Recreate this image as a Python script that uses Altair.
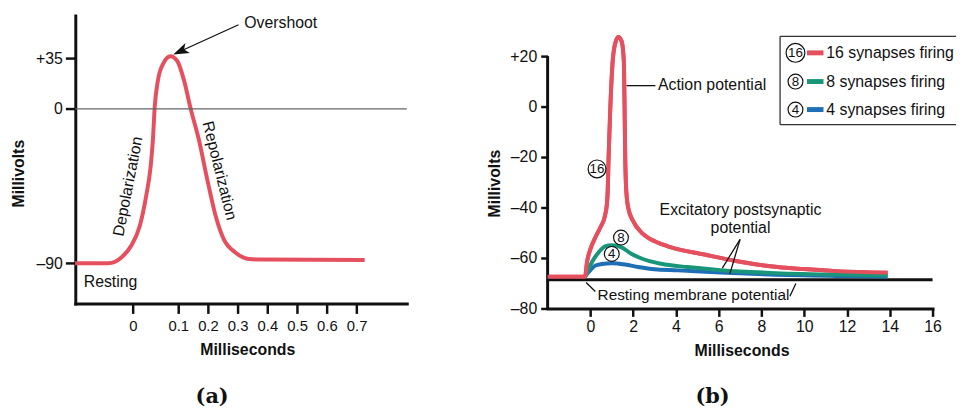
import altair as alt
import pandas as pd

FONT = "Liberation Sans"
SERIF = "DejaVu Serif"
INK = "#111111"
RED = "#E5505E"
GREEN = "#19967A"
BLUE = "#1E6FB5"

# ---------------- panel (a): action potential (schematic axes) ----------------
a_time = [-0.128, -0.055, -0.025, -0.004, 0.015, 0.029, 0.039, 0.044, 0.048, 0.055,
          0.066, 0.083, 0.098, 0.120, 0.142, 0.170, 0.198, 0.226, 0.253, 0.292,
          0.337, 0.381, 0.727]
a_mv = [-90, -90, -86.5, -79.8, -68.3, -51.0, -33.7, -18.3, 1.1, 19.4,
        30.9, 36.5, 33.2, 19.4, 0.0, -18.3, -41.4, -62.5, -76.0, -83.7,
        -87.5, -87.9, -88.1]
a_xticks = [0, 0.1, 0.2, 0.3, 0.4, 0.5, 0.6, 0.7]
a_yticks = [-90, 0, 35]

# ---------------- panel (b): summation of synaptic inputs ----------------
b16_time = [-2.0, -0.25, -0.16, 0.0, 0.23, 0.46, 0.66, 0.77, 0.81, 0.85, 0.93, 1.05,
            1.19, 1.31, 1.46, 1.56, 1.60, 1.63, 1.68, 1.77, 2.0, 2.39, 2.69, 3.01,
            3.78, 5.32, 6.87, 8.41, 9.95, 11.5, 13.9]
b16_mv = [-67.4, -67.4, -61.7, -56.5, -51.9, -48.0, -44.0, -38.8, -33.6, -20.5, -0.9, 18.7,
          25.9, 27.6, 25.9, 18.7, -0.9, -20.5, -33.6, -40.1, -45.4, -49.9, -51.9, -53.4,
          -55.8, -58.6, -61.3, -63.3, -64.4, -65.2, -65.8]
b8_time = [-0.25, -0.08, 0.07, 0.38, 0.69, 1.0, 1.46, 1.93, 2.39, 3.31, 4.55, 6.09, 8.41, 11.5, 13.9]
b8_mv = [-67.4, -64.3, -61.7, -57.8, -55.4, -54.9, -55.8, -58.4, -60.2, -62.3, -63.6, -64.8, -65.9, -66.6, -66.9]
b4_time = [-0.25, -0.16, -0.08, 0.23, 0.54, 1.0, 1.62, 2.24, 3.0, 4.09, 6.09, 8.41, 11.5, 13.9]
b4_mv = [-67.4, -66.3, -65.6, -63.0, -62.4, -62.1, -62.6, -63.6, -64.5, -64.9, -65.8, -66.6, -67.1, -67.3]
b_resting = -68.6
b_xticks = [0, 2, 4, 6, 8, 10, 12, 14, 16]
b_yticks = [-80, -60, -40, -20, 0, 20]

legend_marks = ["16", "8", "4"]
legend_labels = ["16 synapses firing", "8 synapses firing", "4 synapses firing"]
legend_colors = [RED, GREEN, BLUE]

# ---------------- shared axis styling ----------------
axis_common = dict(labelFont=FONT, labelColor=INK, titleFont=FONT, titleFontWeight="bold",
                   titleFontSize=16, titleColor=INK, domainColor=INK, tickColor=INK,
                   domainWidth=3, tickWidth=2.5, grid=False, labelFlush=False,
                   labelOverlap=False, domainCap="square", titleAlign="center",
                   titleBaseline="middle")
sign_expr = ("datum.value > 0 ? '+' + datum.value : "
             "(datum.value < 0 ? '\u2013' + abs(datum.value) : '0')")

# =========================== panel (a) ===========================
xa_scale = alt.Scale(domain=[-0.1276, 0, 0.1, 0.8687], range=[0, 58.3, 104, 335], nice=False, zero=False)
ya_scale = alt.Scale(domain=[-113.5, 0, 35, 64.7], range=[291, 94.3, 43.3, 0], nice=False, zero=False)
xa_axis = alt.Axis(values=a_xticks, labelExpr="datum.value == 0 ? '0' : format(datum.value, '.1f')",
                   labelFontSize=15, tickSize=10, labelPadding=5.5, title="Milliseconds",
                   titleX=173.8, titleY=47, **axis_common)
ya_axis = alt.Axis(values=a_yticks, labelExpr=sign_expr, labelFontSize=16, tickSize=10,
                   labelPadding=3, title="Millivolts", titleX=-57.2, titleY=159.3,
                   titleAngle=270, **axis_common)


def XA(f):
    return alt.X(f, type="quantitative", scale=xa_scale, axis=xa_axis)


def YA(f):
    return alt.Y(f, type="quantitative", scale=ya_scale, axis=ya_axis)


a_zero = alt.Chart(pd.DataFrame({"v": [0]})).mark_rule(color="#666666", strokeWidth=1.2).encode(y=YA("v"))
a_curve = alt.Chart(pd.DataFrame({"t": a_time, "v": a_mv})).mark_line(
    color=RED, strokeWidth=4, interpolate="monotone").encode(x=XA("t"), y=YA("v"))
a_arrow = alt.Chart(pd.DataFrame({"x": [0.303], "x2": [0.1107], "y": [58.3], "y2": [40.3]})).mark_rule(
    color=INK, strokeWidth=1.3).encode(x=XA("x"), x2="x2", y=YA("y"), y2="y2")
a_head = alt.Chart(pd.DataFrame({"x": [0.089], "y": [37.7]})).mark_point(
    shape="M0,0L0.55,1.6L0,1.2L-0.55,1.6Z", angle=245.6, size=400, filled=True,
    color=INK, opacity=1, strokeWidth=0).encode(x=XA("x"), y=YA("y"))
a_notes = alt.Chart(pd.DataFrame({"x": [0.322, -0.109], "y": [59.6, -100.8],
                                  "label": ["Overshoot", "Resting"]})).mark_text(
    font=FONT, fontSize=16, color=INK, align="left", baseline="middle").encode(
    x=XA("x"), y=YA("y"), text="label:N")
a_depol = alt.Chart(pd.DataFrame({"x": [-0.011], "y": [-45.2], "label": ["Depolarization"]})).mark_text(
    font=FONT, fontSize=16, color=INK, align="center", baseline="middle", angle=281).encode(
    x=XA("x"), y=YA("y"), text="label:N")
a_repol = alt.Chart(pd.DataFrame({"x": [0.239], "y": [-36.1], "label": ["Repolarization"]})).mark_text(
    font=FONT, fontSize=16, color=INK, align="center", baseline="middle", angle=76).encode(
    x=XA("x"), y=YA("y"), text="label:N")
a_tag = alt.Chart(pd.DataFrame({"x": [0.214], "y": [-168.3], "label": ["(a)"]})).mark_text(
    font=SERIF, fontSize=21, fontWeight="bold", color=INK, align="center", baseline="middle").encode(
    x=XA("x"), y=YA("y"), text="label:N")

panel_a = alt.layer(a_curve, a_zero, a_arrow, a_head, a_notes, a_depol, a_repol, a_tag).properties(
    width=335, height=291)

# =========================== panel (b) ===========================
xb_scale = alt.Scale(domain=[-2, 16], nice=False, zero=False)
yb_scale = alt.Scale(domain=[-80, 36.08], nice=False, zero=False)
xb_axis = alt.Axis(values=b_xticks, labelFontSize=16, tickSize=8, labelPadding=2,
                   title="Milliseconds", titleX=195.9, titleY=43, **axis_common)
yb_axis = alt.Axis(values=b_yticks, labelExpr=sign_expr, labelFontSize=16, tickSize=7,
                   labelPadding=4, domain=False, title="Millivolts", titleX=-53.3,
                   titleY=169.3, titleAngle=270, **axis_common)


def XB(f):
    return alt.X(f, type="quantitative", scale=xb_scale, axis=xb_axis)


def YB(f):
    return alt.Y(f, type="quantitative", scale=yb_scale, axis=yb_axis)


b_rest = alt.Chart(pd.DataFrame({"v": [b_resting]})).mark_rule(color=INK, strokeWidth=3).encode(y=YB("v"))
b_yline = alt.Chart(pd.DataFrame({"x": [-2], "y": [-80.6], "y2": [20]})).mark_rule(
    color=INK, strokeWidth=3).encode(x=XB("x"), y=YB("y"), y2="y2")
b_blue = alt.Chart(pd.DataFrame({"t": b4_time, "v": b4_mv})).mark_line(
    color=BLUE, strokeWidth=4, interpolate="monotone").encode(x=XB("t"), y=YB("v"))
b_green = alt.Chart(pd.DataFrame({"t": b8_time, "v": b8_mv})).mark_line(
    color=GREEN, strokeWidth=4, interpolate="monotone").encode(x=XB("t"), y=YB("v"))
b_red = alt.Chart(pd.DataFrame({"t": b16_time, "v": b16_mv})).mark_line(
    color=RED, strokeWidth=4, interpolate="monotone").encode(x=XB("t"), y=YB("v"))

# pointer lines (Action potential, EPSP, resting membrane potential)
b_ptr = alt.Chart(pd.DataFrame({
    "x": [1.69, 7.0, 7.0, -0.20, 9.33],
    "x2": [3.04, 6.17, 6.52, 0.23, 9.61],
    "y": [8.3, -52.6, -52.6, -69.7, -75.2],
    "y2": [8.3, -64.0, -66.3, -73.3, -70.1]})).mark_rule(color=INK, strokeWidth=1.3).encode(
    x=XB("x"), x2="x2", y=YB("y"), y2="y2")

b_notes_left = alt.Chart(pd.DataFrame({"x": [3.16], "y": [8.6], "label": ["Action potential"]})).mark_text(
    font=FONT, fontSize=16, color=INK, align="left", baseline="middle").encode(
    x=XB("x"), y=YB("y"), text="label:N")
b_notes_center = alt.Chart(pd.DataFrame({
    "x": [7.02, 7.02], "y": [-41.2, -48.3],
    "label": ["Excitatory postsynaptic", "potential"]})).mark_text(
    font=FONT, fontSize=16, color=INK, align="center", baseline="middle").encode(
    x=XB("x"), y=YB("y"), text="label:N")
b_rmp = alt.Chart(pd.DataFrame({"x": [4.82], "y": [-74.6], "label": ["Resting membrane potential"]})).mark_text(
    font=FONT, fontSize=15.5, color=INK, align="center", baseline="middle").encode(
    x=XB("x"), y=YB("y"), text="label:N")

# circled counts on the curves and in the key
circ_df = pd.DataFrame({
    "x": [0.31, 1.43, 1.0, 9.59, 9.59, 9.59],
    "y": [-24.7, -51.9, -58.4, 21.29, 9.92, -1.18],
    "label": ["16", "8", "4"] + legend_marks,
    "size": [324, 225, 225, 361, 225, 225]})
b_circles = alt.Chart(circ_df).mark_point(shape="circle", filled=False, color=INK,
                                          strokeWidth=1.2, opacity=1).encode(
    x=XB("x"), y=YB("y"), size=alt.Size("size:Q", scale=None, legend=None))
b_circ_text = alt.Chart(circ_df).mark_text(font=FONT, fontSize=13.5, color=INK,
                                           align="center", baseline="middle", dy=0.5).encode(
    x=XB("x"), y=YB("y"), text="label:N")

# key box (right edge runs off the page, as in the original)
b_box = alt.Chart(pd.DataFrame({
    "x": [8.87, 8.87, 8.87], "x2": [17.1, 17.1, 8.87],
    "y": [27.84, -7.18, -7.18], "y2": [27.84, -7.18, 27.84]})).mark_rule(
    color="#333333", strokeWidth=1.3).encode(x=XB("x"), x2="x2", y=YB("y"), y2="y2")
key_df = pd.DataFrame({"label": legend_labels, "color": legend_colors,
                       "y": [21.29, 9.92, -1.18], "x": [10.13] * 3, "x2": [10.90] * 3,
                       "xt": [11.03] * 3})
b_key_dash = alt.Chart(key_df).mark_rule(strokeWidth=5).encode(
    x=XB("x"), x2="x2", y=YB("y"), color=alt.Color("color:N", scale=None, legend=None))
b_key_text = alt.Chart(key_df).mark_text(font=FONT, fontSize=16, color=INK, align="left",
                                         baseline="middle").encode(
    x=XB("xt"), y=YB("y"), text="label:N")
b_tag = alt.Chart(pd.DataFrame({"x": [5.71], "y": [-115.3], "label": ["(b)"]})).mark_text(
    font=SERIF, fontSize=21, fontWeight="bold", color=INK, align="center", baseline="middle").encode(
    x=XB("x"), y=YB("y"), text="label:N")

panel_b = alt.layer(b_red, b_rest, b_yline, b_blue, b_green, b_red, b_ptr, b_notes_left,
                    b_notes_center, b_rmp, b_circles, b_circ_text, b_box, b_key_dash,
                    b_key_text, b_tag).properties(width=389, height=296)

chart = alt.hconcat(panel_a, panel_b, spacing=142.3, bounds="flush").properties(
    padding={"left": 2, "top": 4.5, "right": 0, "bottom": 0},
    background="white").configure_view(stroke=None)

chart.save("out.html", embed_options={"renderer": "svg", "actions": False})
